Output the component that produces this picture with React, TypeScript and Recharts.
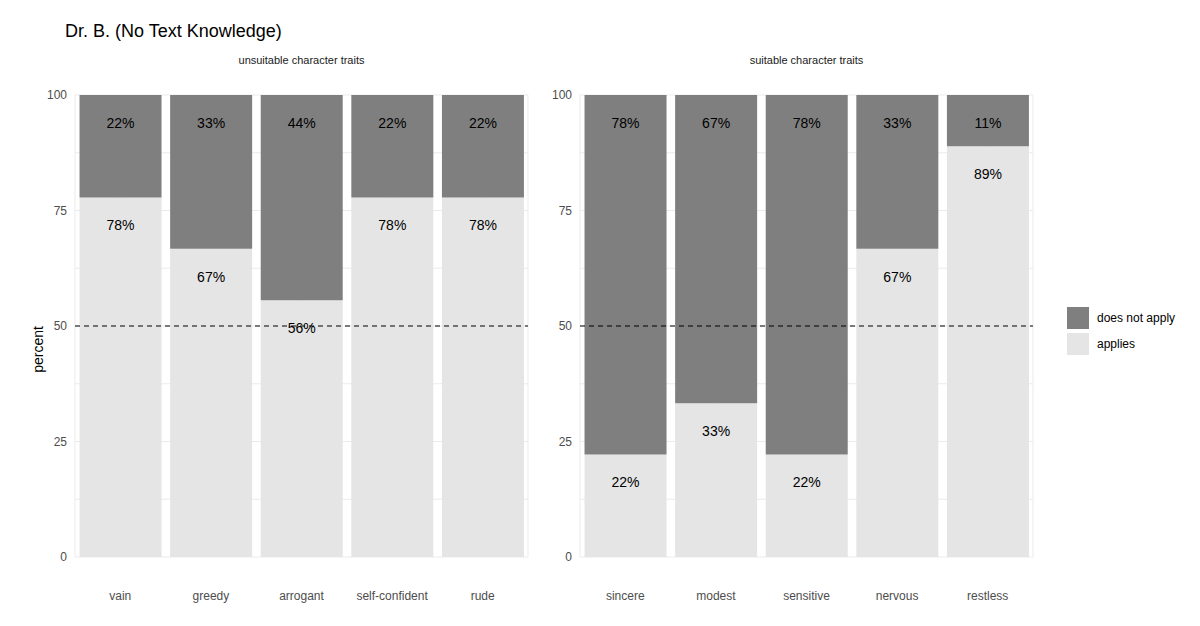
import { BarChart, Bar, XAxis, YAxis, CartesianGrid, ReferenceLine, LabelList } from 'recharts'

const unsuitableTraits = ['vain', 'greedy', 'arrogant', 'self-confident', 'rude']
const unsuitableApplies = [77.8, 66.7, 55.6, 77.8, 77.8]
const suitableTraits = ['sincere', 'modest', 'sensitive', 'nervous', 'restless']
const suitableApplies = [22.2, 33.3, 22.2, 66.7, 88.9]
const yTicks = [0, 25, 50, 75, 100]
const gridValues = [0, 12.5, 25, 37.5, 50, 62.5, 75, 87.5, 100]

const DARK = '#7f7f7f'
const LIGHT = '#e5e5e5'
const FONT = '"Liberation Sans", Arial, sans-serif'

function build(traits: string[], applies: number[]) {
  return traits.map((t, i) => ({ trait: t, applies: applies[i], notApply: 100 - applies[i] }))
}

// eslint-disable-next-line @typescript-eslint/no-explicit-any
function TopLabel(props: any) {
  const { x, y, width, value } = props
  return (
    <text x={x + width / 2} y={y + 29} textAnchor="middle" dominantBaseline="middle"
      fontSize={14} fill="#000" fontFamily={FONT}>
      {`${Math.round(value)}%`}
    </text>
  )
}

function Panel({ title, traits, applies, left, showLabel }: {
  title: string; traits: string[]; applies: number[]; left: number; showLabel: boolean
}) {
  const data = build(traits, applies)
  return (
    <div style={{ position: 'absolute', left, top: 0, width: 545, height: 626 }}>
      <div style={{ position: 'absolute', left: 75, width: 453, top: 54, textAlign: 'center', fontSize: 11, color: '#1a1a1a' }}>
        {title}
      </div>
      <BarChart width={545} height={626} data={data} barCategoryGap="5%"
        margin={{ top: 95, bottom: 39, left: 40, right: 17 }}>
        <CartesianGrid stroke="#ebebeb" horizontalValues={gridValues} />
        <XAxis dataKey="trait" axisLine={false} tickLine={false} tickMargin={28}
          tick={{ fill: '#4d4d4d', fontSize: 12, fontFamily: FONT }} />
        <YAxis domain={[0, 100]} ticks={yTicks} width={35} axisLine={false} tickLine={false}
          tick={{ fill: '#4d4d4d', fontSize: 12, fontFamily: FONT }}
          label={showLabel ? { value: 'percent', angle: -90, position: 'left', offset: 2, fill: '#000', fontSize: 14, fontFamily: FONT } : undefined} />
        <Bar dataKey="applies" stackId="a" fill={LIGHT} isAnimationActive={false}>
          <LabelList dataKey="applies" content={<TopLabel />} />
        </Bar>
        <Bar dataKey="notApply" stackId="a" fill={DARK} isAnimationActive={false}>
          <LabelList dataKey="notApply" content={<TopLabel />} />
        </Bar>
        <ReferenceLine y={50} stroke="#000" strokeDasharray="5 4" strokeWidth={1.2} ifOverflow="extendDomain" />
      </BarChart>
    </div>
  )
}

export default function App() {
  return (
    <div style={{ position: 'absolute', left: 0, top: 0, width: 1200, height: 626, background: '#fff', fontFamily: FONT, overflow: 'hidden' }}>
      <div style={{ position: 'absolute', left: 65, top: 21, fontSize: 18, color: '#000' }}>Dr. B. (No Text Knowledge)</div>
      <Panel title="unsuitable character traits" traits={unsuitableTraits} applies={unsuitableApplies} left={0} showLabel />
      <Panel title="suitable character traits" traits={suitableTraits} applies={suitableApplies} left={505} showLabel={false} />
      <div style={{ position: 'absolute', left: 1067, top: 306, fontSize: 12, color: '#000' }}>
        {[['does not apply', DARK], ['applies', LIGHT]].map(([name, c]) => (
          <div key={name} style={{ display: 'flex', alignItems: 'center', height: 24, marginBottom: 2 }}>
            <div style={{ width: 22, height: 22, background: c, marginRight: 8 }} />
            <span>{name}</span>
          </div>
        ))}
      </div>
    </div>
  )
}
